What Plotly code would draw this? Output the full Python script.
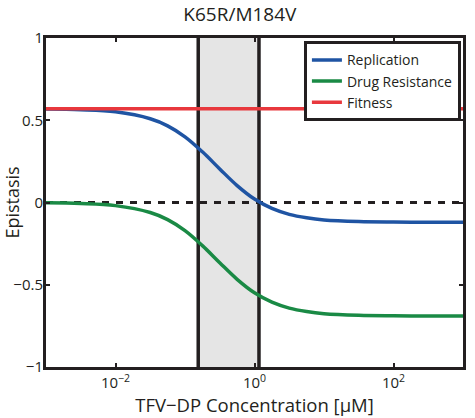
import plotly.graph_objects as go

# Data
conc = [0.001, 0.00316, 0.01, 0.0316, 0.0562, 0.1, 0.178, 0.316, 0.562,
        1.0, 1.78, 3.16, 5.62, 10.0, 31.6, 100.0, 316.0, 1000.0]
replication = [0.568, 0.564, 0.551, 0.509, 0.466, 0.399, 0.308, 0.204, 0.103,
               0.021, -0.036, -0.072, -0.093, -0.106, -0.116, -0.119, -0.120, -0.120]
drug_resistance = [-0.002, -0.006, -0.019, -0.061, -0.104, -0.171, -0.262, -0.366, -0.467,
                   -0.549, -0.606, -0.642, -0.663, -0.676, -0.686, -0.689, -0.690, -0.690]
fitness_x = [0.001, 1000.0]
fitness = [0.57, 0.57]
zero_x = [0.001, 1000.0]
zero_y = [0.0, 0.0]
band = [0.155, 1.16]

x_tickvals = [0.01, 1, 100]
x_ticktext = ["10<sup>\u22122</sup>", "10<sup>0</sup>", "10<sup>2</sup>"]
y_tickvals = [-1, -0.5, 0, 0.5, 1]
y_ticktext = ["\u22121", "\u22120.5", "0", "0.5", "1"]

FONT = "Open Sans"

fig = go.Figure()

# shaded band and its boundary lines
fig.add_shape(type="rect", xref="x", yref="paper", x0=band[0], x1=band[1], y0=0, y1=1,
              fillcolor="#e5e5e5", line_width=0, layer="below")
for b in band:
    fig.add_shape(type="line", xref="x", yref="paper", x0=b, x1=b, y0=0, y1=1,
                  line=dict(color="#231f20", width=3.5), layer="below")

fig.add_trace(go.Scatter(x=zero_x, y=zero_y, mode="lines", showlegend=False,
                         line=dict(color="#231f20", width=3, dash="7px,7px")))
fig.add_trace(go.Scatter(x=conc, y=replication, mode="lines", name="Replication",
                         line=dict(color="#1f54a3", width=3.5, shape="spline")))
fig.add_trace(go.Scatter(x=conc, y=drug_resistance, mode="lines", name="Drug Resistance",
                         line=dict(color="#1a8a45", width=3.5, shape="spline")))
fig.add_trace(go.Scatter(x=fitness_x, y=fitness, mode="lines", name="Fitness",
                         line=dict(color="#e8383d", width=3.5)))

fig.update_layout(
    width=475, height=418,
    margin=dict(l=46, r=12, t=38, b=51),
    paper_bgcolor="white", plot_bgcolor="white",
    font=dict(family=FONT, color="#231f20", size=15),
    title=dict(text="K65R/M184V", x=0.505, xanchor="center", y=0.965, yanchor="middle",
               font=dict(size=19, family=FONT, color="#231f20")),
    legend=dict(x=0.995, xanchor="right", y=0.99, yanchor="top",
                bordercolor="#231f20", borderwidth=3, bgcolor="white",
                font=dict(size=14, family=FONT), tracegroupgap=0,
                itemwidth=30),
    xaxis=dict(type="log", range=[-3, 3], tickvals=x_tickvals, ticktext=x_ticktext,
               showgrid=False, zeroline=False, showline=True, mirror="ticks",
               linecolor="#231f20", linewidth=3, ticks="inside", ticklen=4, tickwidth=2,
               tickcolor="#231f20", automargin=False, tickfont=dict(size=15),
               title=dict(text="TFV\u2212DP Concentration [\u03bcM]", font=dict(size=18.5), standoff=3)),
    yaxis=dict(range=[-1, 1], tickvals=y_tickvals, ticktext=y_ticktext,
               showgrid=False, zeroline=False, showline=True, mirror="ticks",
               linecolor="#231f20", linewidth=3, ticks="inside", ticklen=4, tickwidth=2,
               tickcolor="#231f20", automargin=False, tickfont=dict(size=15),
               ticklabelstandoff=-3,
               title=dict(text="Epistasis", font=dict(size=18), standoff=2)),
)

fig.write_html("out.html", config={"displayModeBar": False},
               post_script="document.body.style.margin='0';document.body.style.overflow='hidden';")
